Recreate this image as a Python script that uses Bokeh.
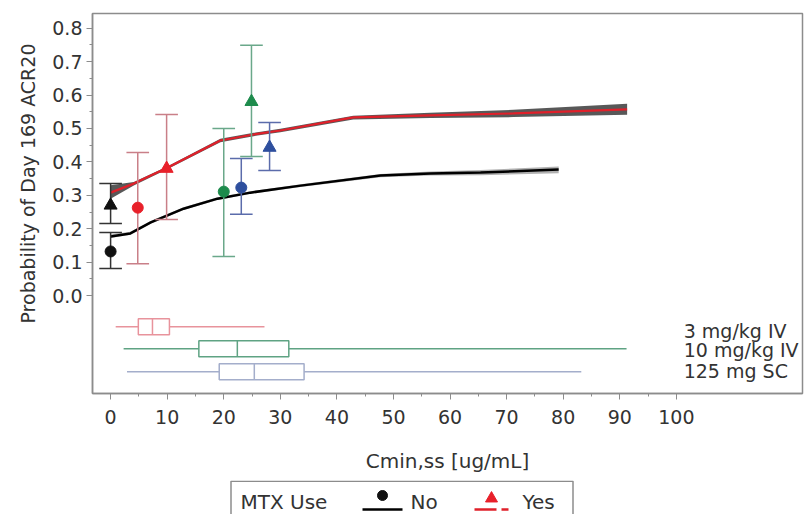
from bokeh.plotting import figure
from bokeh.models import Range1d, FixedTicker, ColumnDataSource, Title, CustomJSTickFormatter
from bokeh.layouts import column
from bokeh.core.properties import value
from bokeh.embed import file_html
from bokeh.resources import INLINE

# ---------------- data ----------------
# model curves (probability vs Cmin,ss)
no_x = [0, 3.5, 7.1, 12.9, 18.9, 24.7, 33.6, 47.7, 56.5, 65.4, 79.2]
no_y = [0.177, 0.186, 0.219, 0.260, 0.290, 0.308, 0.329, 0.359, 0.365, 0.368, 0.377]
no_lo = [0.172, 0.182, 0.215, 0.256, 0.286, 0.304, 0.325, 0.354, 0.359, 0.360, 0.366]
no_hi = [0.183, 0.191, 0.223, 0.264, 0.294, 0.312, 0.333, 0.364, 0.371, 0.376, 0.386]

yes_x = [0, 4.1, 10.1, 19.4, 25.3, 30.0, 42.9, 56.5, 71.2, 91.3]
yes_y = [0.308, 0.335, 0.383, 0.464, 0.482, 0.494, 0.533, 0.539, 0.545, 0.557]
yes_lo = [0.290, 0.329, 0.379, 0.459, 0.477, 0.489, 0.527, 0.531, 0.534, 0.541]
yes_hi = [0.330, 0.340, 0.387, 0.469, 0.487, 0.499, 0.538, 0.547, 0.556, 0.574]

# observed points: placebo, 3 mg/kg IV, 10 mg/kg IV, 125 mg SC
obs_no_x = [0.0, 4.8, 20.0, 23.1]
obs_no_y = [0.132, 0.263, 0.311, 0.323]
obs_no_lo = [0.081, 0.095, 0.117, 0.243]
obs_no_hi = [0.189, 0.428, 0.500, 0.410]

obs_yes_x = [0.0, 9.9, 24.9, 28.1]
obs_yes_y = [0.270, 0.380, 0.580, 0.443]
obs_yes_lo = [0.216, 0.228, 0.416, 0.374]
obs_yes_hi = [0.335, 0.542, 0.749, 0.518]

# Cmin,ss distributions by dose
dose_labels = ["3 mg/kg IV", "10 mg/kg IV", "125 mg SC"]
box_min = [0.9, 2.3, 2.9]
box_q1 = [4.9, 15.6, 19.2]
box_med = [7.4, 22.4, 25.4]
box_q3 = [10.4, 31.5, 34.2]
box_max = [27.2, 91.2, 83.2]

x_ticks = [0, 10, 20, 30, 40, 50, 60, 70, 80, 90, 100]
y_ticks = [0.0, 0.1, 0.2, 0.3, 0.4, 0.5, 0.6, 0.7, 0.8]

legend_title = "MTX Use"
legend_labels = ["No", "Yes"]

# ---------------- styles ----------------
FONT = "DejaVu Sans"
TXT = "#333333"
FRAME = "#8c8c8c"
grp_marker = ["#111111", "#e8202a", "#1d8b4c", "#2e4f9e"]
grp_err = ["#333333", "#c97f88", "#6aa88a", "#5b6cab"]
box_col = ["#e8939c", "#5fa383", "#a4aecb"]
box_y = [-0.093, -0.159, -0.228]
label_y = [-0.106, -0.162, -0.226]
cap = 2.0
bh = 0.024

p = figure(width=805, height=480, x_range=Range1d(-3.2, 122.3), y_range=Range1d(-0.293, 0.844),
           output_backend="svg", toolbar_location=None,
           min_border_left=92, min_border_right=3, min_border_top=13, min_border_bottom=87)
p.xgrid.visible = False
p.ygrid.visible = False
p.outline_line_color = FRAME
p.outline_line_width = 1.5

for ax in (p.xaxis[0], p.yaxis[0]):
    ax.axis_line_color = FRAME
    ax.axis_line_width = 1.5
    ax.major_tick_line_color = FRAME
    ax.minor_tick_line_color = FRAME
    ax.major_tick_out = 6
    ax.major_tick_in = 0
    ax.minor_tick_out = 3
    ax.minor_tick_in = 0
    ax.major_label_text_font = FONT
    ax.major_label_text_font_size = "19px"
    ax.major_label_text_color = TXT
    ax.axis_label_text_font = FONT
    ax.axis_label_text_font_size = "20px"
    ax.axis_label_text_font_style = "normal"
    ax.axis_label_text_color = TXT

p.xaxis.ticker = FixedTicker(ticks=x_ticks, minor_ticks=[t + 5 for t in x_ticks[:-1]])
p.yaxis.ticker = FixedTicker(ticks=y_ticks, minor_ticks=[round(t + 0.05, 2) for t in y_ticks[:-1]])
p.yaxis.formatter = CustomJSTickFormatter(code="return tick.toFixed(1);")
p.xaxis.axis_label = "Cmin,ss [ug/mL]"
p.xaxis.major_label_standoff = 10
p.xaxis.axis_label_standoff = 22
p.yaxis.major_label_standoff = 4

ytitle = Title(text="Probability of Day 169 ACR20", align="left", offset=70,
               text_font=FONT, text_font_size="19px", text_font_style="normal",
               text_color=TXT, standoff=21)
p.add_layout(ytitle, "left")

# bands and curves
p.varea(x=no_x, y1=no_lo, y2=no_hi, fill_color="#a8a8a8", fill_alpha=0.9)
p.varea(x=yes_x, y1=yes_lo, y2=yes_hi, fill_color="#4f4f4f", fill_alpha=0.95)
p.line(no_x, no_y, line_color="#000000", line_width=2.5)
p.line(yes_x, yes_y, line_color="#e0202a", line_width=2.2)

# error bars + markers
def err(xs, ys, lo, hi, marker, size):
    src = ColumnDataSource(dict(x=xs, y=ys, lo=lo, hi=hi,
                                xl=[v - cap for v in xs], xr=[v + cap for v in xs],
                                ec=grp_err, mc=grp_marker))
    p.segment(x0="x", y0="lo", x1="x", y1="hi", line_color="ec", line_width=1.5, source=src)
    p.segment(x0="xl", y0="lo", x1="xr", y1="lo", line_color="ec", line_width=1.5, source=src)
    p.segment(x0="xl", y0="hi", x1="xr", y1="hi", line_color="ec", line_width=1.5, source=src)
    p.scatter(x="x", y="y", marker=marker, size=size, fill_color="mc", line_color="mc", source=src)

err(obs_no_x, obs_no_y, obs_no_lo, obs_no_hi, "circle", 11)
err(obs_yes_x, obs_yes_y, obs_yes_lo, obs_yes_hi, "triangle", 13)

# box plots
bsrc = ColumnDataSource(dict(y=box_y, mn=box_min, q1=box_q1, med=box_med, q3=box_q3, mx=box_max,
                             top=[v + bh for v in box_y], bot=[v - bh for v in box_y], c=box_col))
p.segment(x0="mn", y0="y", x1="q1", y1="y", line_color="c", line_width=1.5, source=bsrc)
p.segment(x0="q3", y0="y", x1="mx", y1="y", line_color="c", line_width=1.5, source=bsrc)
p.quad(left="q1", right="q3", top="top", bottom="bot", fill_color=None, line_color="c", line_width=1.5, source=bsrc)
p.segment(x0="med", y0="bot", x1="med", y1="top", line_color="c", line_width=1.5, source=bsrc)

p.text(x=[101.3] * 3, y=label_y, text=dose_labels, text_font=value(FONT), text_font_size="19px",
       text_color=TXT, text_baseline="middle", text_align="left")

# legend strip (frame aligned with main plot frame: canvas px 92..802)
q = figure(width=805, height=34, x_range=Range1d(92, 802), y_range=Range1d(0, 34),
           output_backend="svg", toolbar_location=None, min_border=0,
           min_border_left=92, min_border_right=3,
           x_axis_type=None, y_axis_type=None)
q.xgrid.visible = False
q.ygrid.visible = False
q.outline_line_color = None
q.quad(left=[230.5], right=[572.5], top=[33.2], bottom=[-10], fill_color=None, line_color=FRAME, line_width=1.5)
q.text(x=[240, 410, 522], y=[13, 13, 13], text=[legend_title] + legend_labels, text_font=value(FONT),
       text_font_size="20px", text_color=TXT, text_baseline="middle", text_align="left")
q.line([362, 402], [5, 5], line_color="#000000", line_width=2.5)
q.scatter([382], [19], marker="circle", size=10, fill_color="#111111", line_color="#111111")
q.line([474, 508], [5, 5], line_color="#e0202a", line_width=2.5, line_dash="22 5")
q.scatter([491], [16], marker="triangle", size=12, fill_color="#e8202a", line_color="#e8202a")

layout = column(p, q, spacing=0)
open("out.html", "w").write(file_html(layout, INLINE))
